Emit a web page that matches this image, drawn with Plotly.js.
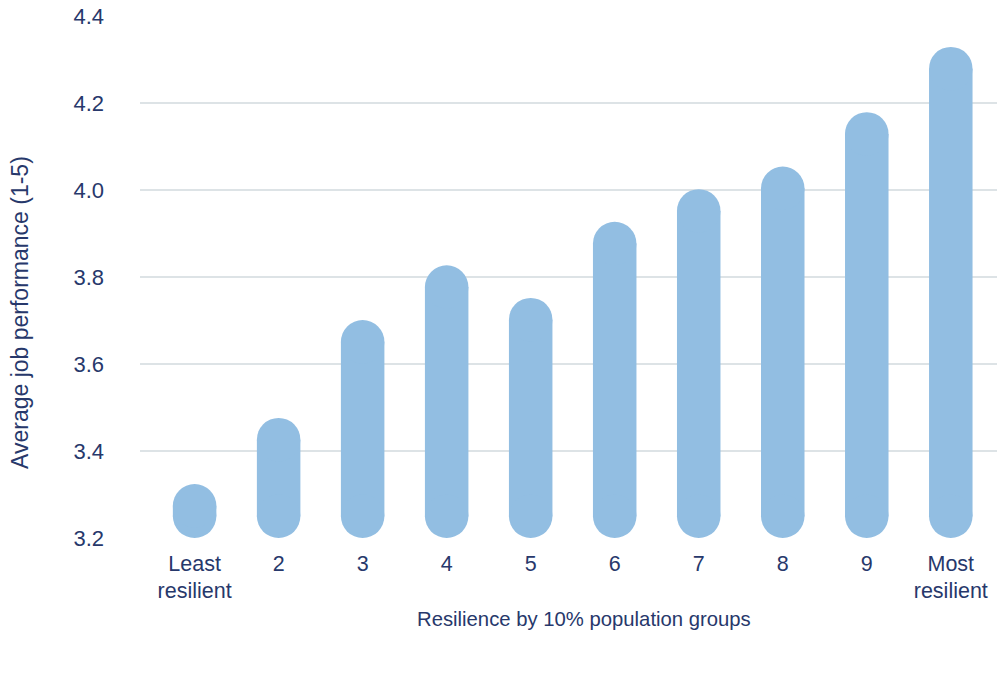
<!DOCTYPE html>
<html>
<head>
<meta charset="utf-8">
<script src="https://cdn.plot.ly/plotly-3.0.1.min.js"></script>
<style>
  html, body { margin: 0; padding: 0; background: #fff; }
  #chart { width: 1000px; height: 682px; }
</style>
</head>
<body>
<div id="chart"></div>
<script>
// resilience deciles and mean job performance
var groups = ['Least<br>resilient', '2', '3', '4', '5', '6', '7', '8', '9', 'Most<br>resilient'];
var performance = [3.324, 3.476, 3.701, 3.827, 3.752, 3.927, 4.002, 4.054, 4.179, 4.329];
var yTicks = [3.2, 3.4, 3.6, 3.8, 4.0, 4.2, 4.4];

var barColor = '#92bee2';
var ink = '#27386b';
var yMin = 3.2, yMax = 4.4;
var plotLeft = 140, plotRight = 997;
var plotTop = 16, plotBottom = 538;
var barPx = 43.5;
// half a bar width in data units: the round caps are centred this far inside each end
var capR = (barPx / 2) * (yMax - yMin) / (plotBottom - plotTop);

// each pill = thick segment between two cap centres, with a circle on each end
var px = [], py = [];
groups.forEach(function(g, i) {
  px.push(g, g, null);
  py.push(yMin + capR, performance[i] - capR, null);
});

var pills = {
  type: 'scatter',
  mode: 'lines+markers',
  x: px,
  y: py,
  connectgaps: false,
  line: { color: barColor, width: barPx },
  marker: { color: barColor, size: barPx, symbol: 'circle', line: { width: 0 } },
  hoverinfo: 'skip',
  cliponaxis: false
};

// pixel -> paper helpers for the two free-standing titles
function paperX(p) { return (p - plotLeft) / (plotRight - plotLeft); }
function paperY(p) { return (plotBottom - p) / (plotBottom - plotTop); }

var layout = {
  width: 1000,
  height: 682,
  margin: { l: plotLeft, r: 1000 - plotRight, t: plotTop, b: 682 - plotBottom },
  paper_bgcolor: '#fff',
  plot_bgcolor: '#fff',
  showlegend: false,
  font: { family: 'Liberation Sans, Arial, sans-serif', color: ink, size: 21 },
  xaxis: {
    type: 'category',
    categoryorder: 'array',
    categoryarray: groups,
    range: [-0.65, 9.55],
    showgrid: false,
    zeroline: false,
    showline: false,
    ticks: '',
    ticklabelstandoff: 10,
    tickfont: { size: 21.5, color: ink },
    automargin: false
  },
  yaxis: {
    range: [yMin, yMax],
    tickvals: yTicks,
    ticktext: yTicks.map(function(t) { return t.toFixed(1); }),
    showgrid: true,
    gridcolor: '#dde3e6',
    gridwidth: 2,
    zeroline: false,
    showline: false,
    ticks: '',
    ticklabelstandoff: 35,
    tickfont: { size: 22, color: ink },
    automargin: false
  },
  annotations: [{
    text: 'Average job performance (1-5)',
    xref: 'paper', yref: 'paper',
    x: paperX(20), y: paperY(313),
    xanchor: 'center', yanchor: 'middle',
    textangle: -90,
    showarrow: false,
    font: { size: 23, color: ink }
  }, {
    text: 'Resilience by 10% population groups',
    xref: 'paper', yref: 'paper',
    x: paperX(583.5), y: paperY(619),
    xanchor: 'center', yanchor: 'middle',
    showarrow: false,
    font: { size: 20.3, color: ink }
  }]
};

Plotly.newPlot('chart', [pills], layout, { displayModeBar: false, staticPlot: true });
</script>
</body>
</html>
